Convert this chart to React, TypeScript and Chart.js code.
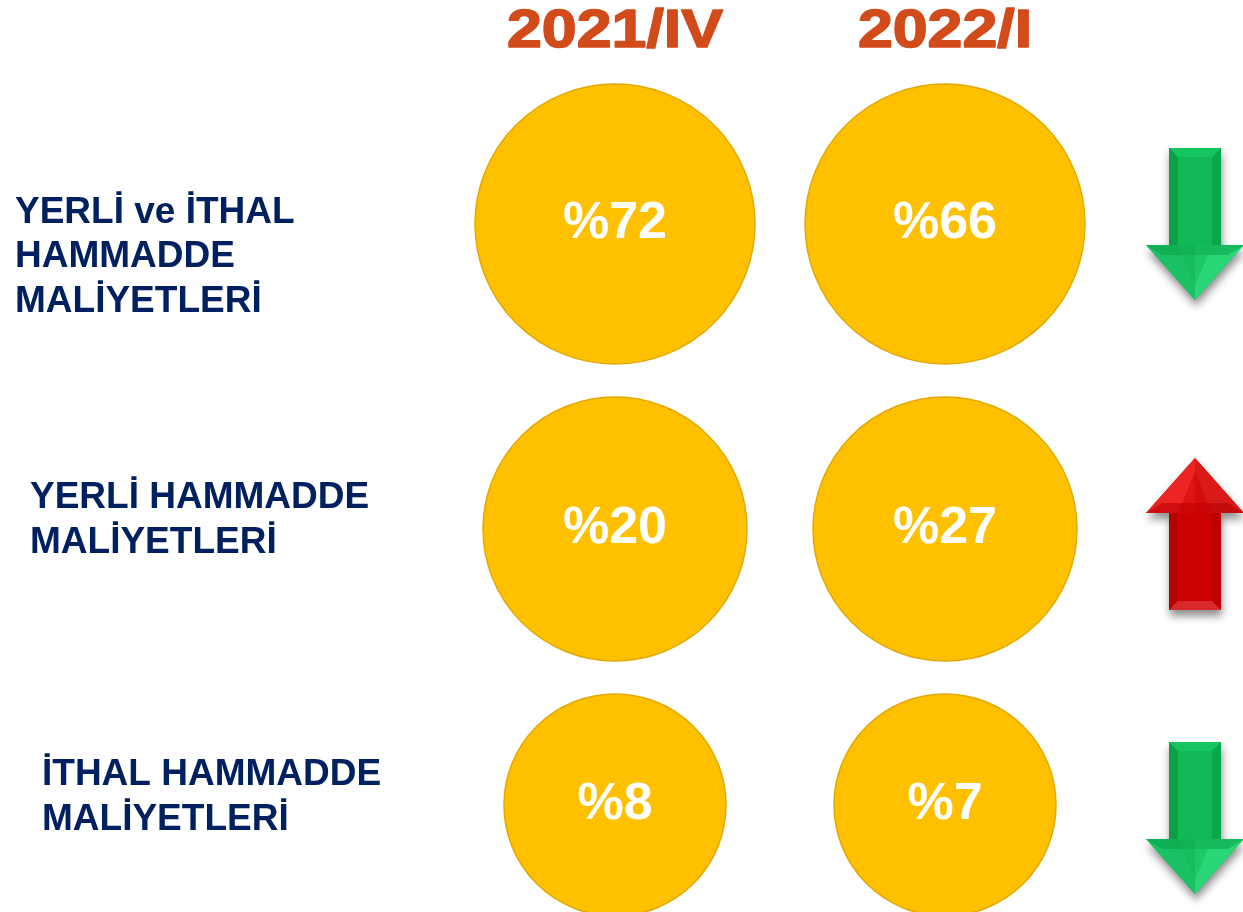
import React, { useEffect, useRef } from 'react';
import { Chart, registerables } from 'chart.js';

Chart.register(...registerables);

// ---- data ----
const periods = ['2021/IV', '2022/I'];
const rowLabels: string[][] = [
  ['YERLİ ve İTHAL', 'HAMMADDE', 'MALİYETLERİ'],
  ['YERLİ HAMMADDE', 'MALİYETLERİ'],
  ['İTHAL HAMMADDE', 'MALİYETLERİ'],
];
const values2021IV = [72, 20, 8];
const values2022I = [66, 27, 7];

// ---- layout / style ----
const W = 1243;
const H = 912;
const rowRadius = [140, 132, 111];
const firstRowTop = 84;
const rowGap = 33;
const labelIndent = [15, 30, 42];
const labelShift = [33, -8.5, -7.5];
const arrowShift = [0, 5, 13];
const labelLineHeight = 44.5;
const arrowInset = 85;
const titleBaseline = 47;
const titleStretch = 1.16;

const FONT = '"Liberation Sans", Arial, Helvetica, sans-serif';
const BUBBLE_FILL = '#FFC000';
const BUBBLE_BORDER = '#E2A900';
const TITLE_COLOR = '#D24B1A';
const LABEL_COLOR = '#002060';

const GREEN = { main: '#10B955', dark: '#0AA049', dark2: '#0BA74C', cap: '#16C460', headL: '#19C262', headR: '#2AD676' };
const RED = { main: '#CC0202', dark: '#B50000', dark2: '#BC0000', cap: '#D82A2A', headL: '#EE2323', headR: '#DA1919' };

function rowCenters(): number[] {
  const c: number[] = [];
  rowRadius.forEach((r, i) => {
    if (i === 0) c.push(firstRowTop + r);
    else c.push(c[i - 1] + rowRadius[i - 1] + rowGap + r);
  });
  return c;
}

function drawArrow(ctx: CanvasRenderingContext2D, cx: number, cy: number, up: boolean, pal: typeof GREEN) {
  const hw = 26, HW = 49, top = -76, base = 21, tip = 76, b = 9;
  ctx.save();
  ctx.translate(cx, cy);
  if (up) ctx.scale(1, -1);
  ctx.save();
  ctx.shadowColor = 'rgba(0,0,0,0.45)';
  ctx.shadowBlur = 9;
  ctx.shadowOffsetX = 1;
  ctx.shadowOffsetY = 6;
  ctx.beginPath();
  ctx.moveTo(-hw, top);
  ctx.lineTo(hw, top);
  ctx.lineTo(hw, base);
  ctx.lineTo(HW, base);
  ctx.lineTo(0, tip);
  ctx.lineTo(-HW, base);
  ctx.lineTo(-hw, base);
  ctx.closePath();
  ctx.fillStyle = pal.main;
  ctx.fill();
  ctx.restore();
  ctx.fillStyle = pal.dark;
  ctx.fillRect(-hw, top, b, base - top);
  ctx.fillStyle = pal.dark2;
  ctx.fillRect(hw - b, top, b, base - top);
  ctx.beginPath();
  ctx.moveTo(-hw, top);
  ctx.lineTo(hw, top);
  ctx.lineTo(hw - b, top + b);
  ctx.lineTo(-hw + b, top + b);
  ctx.closePath();
  ctx.fillStyle = pal.cap;
  ctx.fill();
  ctx.beginPath();
  ctx.moveTo(-HW, base);
  ctx.lineTo(0, base);
  ctx.lineTo(0, tip);
  ctx.closePath();
  ctx.fillStyle = pal.headL;
  ctx.fill();
  ctx.beginPath();
  ctx.moveTo(HW, base);
  ctx.lineTo(0, base);
  ctx.lineTo(0, tip);
  ctx.closePath();
  ctx.fillStyle = pal.headR;
  ctx.fill();
  ctx.beginPath();
  ctx.moveTo(-HW, base);
  ctx.lineTo(HW, base);
  ctx.lineTo(HW - 16, base + 10);
  ctx.lineTo(-HW + 16, base + 10);
  ctx.closePath();
  ctx.fillStyle = pal.dark;
  ctx.globalAlpha = 0.55;
  ctx.fill();
  ctx.globalAlpha = 1;
  ctx.beginPath();
  ctx.moveTo(-hw + b, base);
  ctx.lineTo(hw - b, base);
  ctx.lineTo(0, tip - 14);
  ctx.closePath();
  ctx.fillStyle = pal.main;
  ctx.globalAlpha = 0.5;
  ctx.fill();
  ctx.restore();
}

const overlayPlugin = {
  id: 'overlay',
  afterDatasetsDraw(chart: any) {
    const ctx: CanvasRenderingContext2D = chart.ctx;
    const centers = rowCenters();
    const xScale = chart.scales.x;
    const yScale = chart.scales.y;

    // column titles (period labels)
    ctx.save();
    ctx.font = `bold 54px ${FONT}`;
    ctx.fillStyle = TITLE_COLOR;
    ctx.strokeStyle = TITLE_COLOR;
    ctx.lineWidth = 1.6;
    ctx.lineJoin = 'round';
    ctx.textAlign = 'center';
    ctx.textBaseline = 'alphabetic';
    periods.forEach((p, i) => {
      const x = xScale.getPixelForValue(i);
      ctx.save();
      ctx.translate(x, titleBaseline);
      ctx.scale(titleStretch, 1);
      ctx.fillText(p, 0, 0);
      ctx.strokeText(p, 0, 0);
      ctx.restore();
    });
    ctx.restore();

    // values inside bubbles
    ctx.save();
    ctx.font = `bold 52px ${FONT}`;
    ctx.fillStyle = '#FFFFFF';
    ctx.textAlign = 'center';
    ctx.textBaseline = 'middle';
    chart.data.datasets.forEach((ds: any, di: number) => {
      const meta = chart.getDatasetMeta(di);
      meta.data.forEach((el: any, i: number) => {
        ctx.fillText('%' + ds.values[i], el.x, el.y);
      });
    });
    ctx.restore();

    // row labels
    ctx.save();
    ctx.font = `bold 37px ${FONT}`;
    ctx.fillStyle = LABEL_COLOR;
    ctx.textAlign = 'left';
    ctx.textBaseline = 'middle';
    rowLabels.forEach((lines, i) => {
      const cy = yScale.getPixelForValue(centers[i]) + labelShift[i];
      const start = cy - ((lines.length - 1) * labelLineHeight) / 2;
      lines.forEach((t, k) => ctx.fillText(t, labelIndent[i], start + k * labelLineHeight));
    });
    ctx.restore();

    // trend arrows
    const ax = chart.chartArea.right + arrowInset;
    values2021IV.forEach((v, i) => {
      const up = values2022I[i] > v;
      drawArrow(ctx, ax, yScale.getPixelForValue(centers[i]) + arrowShift[i], up, up ? RED : GREEN);
    });
  },
};

export default function App() {
  const ref = useRef<HTMLCanvasElement>(null);
  useEffect(() => {
    document.body.style.margin = '0';
    const centers = rowCenters();
    const mk = (vals: number[], p: string) => ({
      label: p,
      values: vals,
      data: vals.map((_, i) => ({ x: p, y: centers[i], r: rowRadius[i] })),
      backgroundColor: BUBBLE_FILL,
      borderColor: BUBBLE_BORDER,
      borderWidth: 1.5,
      clip: false,
    });
    const chart = new Chart(ref.current as HTMLCanvasElement, {
      type: 'bubble',
      data: {
        labels: periods,
        datasets: [mk(values2021IV, periods[0]), mk(values2022I, periods[1])] as any,
      },
      options: {
        animation: false,
        responsive: false,
        maintainAspectRatio: false,
        events: [],
        layout: { autoPadding: false, padding: { left: 450, right: 133, top: 0, bottom: 0 } },
        plugins: { legend: { display: false }, tooltip: { enabled: false } },
        scales: {
          x: {
            type: 'category',
            labels: periods,
            offset: true,
            display: false,
          },
          y: {
            type: 'linear',
            display: false,
            reverse: true,
            min: 0,
            max: H,
          },
        },
      } as any,
      plugins: [overlayPlugin],
    });
    return () => chart.destroy();
  }, []);
  return <canvas ref={ref} width={W} height={H} style={{ display: 'block' }} />;
}
